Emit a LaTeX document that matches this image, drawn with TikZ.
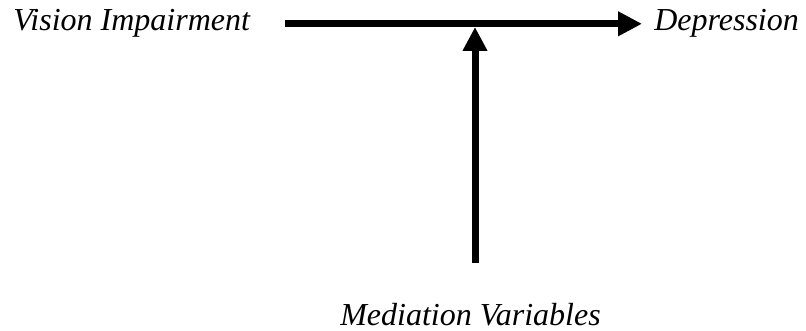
\documentclass[tikz,border=0pt]{standalone}
\usepackage{fontspec}
\setmainfont{Liberation Serif}
\usepackage{tikz}
\usetikzlibrary{arrows.meta,positioning}

\begin{document}
\begin{tikzpicture}[
    x=0.75pt, y=-0.75pt,
    lbl/.style={inner sep=0pt, font=\fontsize{24}{28}\selectfont\itshape},
    arr/.style={-{Triangle[length=18pt, width=17.5pt]}, line width=5.25pt}
  ]
    \useasboundingbox (0,0) rectangle (806,331);
    \node[lbl, anchor=base west] (vision) at (13,31) {Vision Impairment};
    \node[lbl, anchor=base west] (depression) at (654,31) {Depression};
    \node[lbl, anchor=base west] (mediation) at (340,325) {Mediation Variables};
    \coordinate (junction) at (475,27);
    \draw[arr, shorten <=26pt, shorten >=9pt] (vision.east) -- (depression.west);
    \draw[arr] ([yshift=30pt]mediation.north -| junction) -- (junction);
  \end{tikzpicture}
\end{document}
